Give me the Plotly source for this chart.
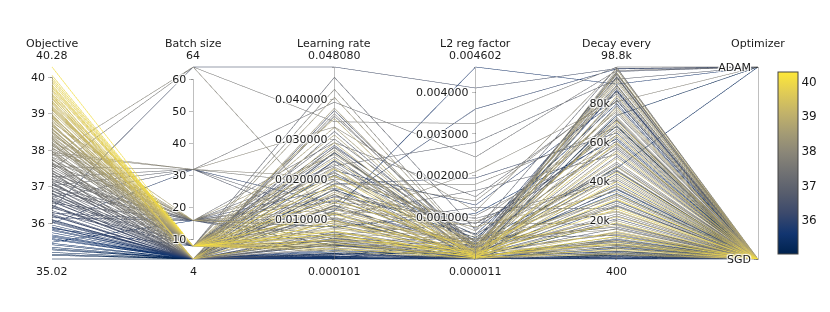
import plotly.graph_objects as go

objective = [40.28, 40.05, 39.86, 39.79, 39.71, 39.62, 39.55, 39.48, 39.41, 39.35,
             39.28, 39.22, 39.16, 39.10, 39.04, 38.98, 38.93, 38.87, 38.82, 38.77,
             38.71, 38.66, 38.61, 38.56, 38.51, 38.46, 38.41, 38.36, 38.31, 38.27,
             38.22, 38.17, 38.12, 38.08, 38.03, 37.98, 37.94, 37.89, 37.85, 37.80,
             37.76, 37.72, 37.67, 37.63, 37.59, 37.55, 37.51, 37.47, 37.43, 37.39,
             37.35, 37.31, 37.27, 37.23, 37.19, 37.15, 37.11, 37.07, 37.03, 36.99,
             36.95, 36.91, 36.87, 36.83, 36.79, 36.75, 36.71, 36.67, 36.63, 36.59,
             36.55, 36.50, 36.45, 36.40, 36.35, 36.30, 36.25, 36.20, 36.15, 36.10,
             36.05, 36.00, 35.95, 35.90, 35.85, 35.80, 35.74, 35.68, 35.62, 35.55,
             35.48, 35.41, 35.34, 35.27, 35.20, 35.12, 35.02, 39.92, 39.66, 39.44,
             39.19, 38.95, 38.74, 38.58, 38.39, 38.20, 38.05, 37.92, 37.74, 37.57,
             37.37, 37.21, 37.05, 36.89, 36.69, 36.48, 36.28, 36.08, 35.88, 35.58,
             39.98, 39.75, 39.52, 39.31, 39.13, 38.90, 38.68, 38.49, 38.33, 38.14,
             37.96, 37.82, 37.65, 37.45, 37.29, 37.13, 36.97, 36.81, 36.61, 36.42,
             36.22, 36.02, 35.83, 35.65, 35.45, 35.30, 35.15, 37.88, 37.61, 38.26]

batch_size = [8, 8, 8, 8, 8, 4, 8, 8, 8, 8,
              4, 8, 8, 8, 8, 4, 8, 8, 8, 16,
              8, 8, 4, 8, 8, 8, 16, 8, 4, 8,
              8, 8, 16, 8, 4, 8, 32, 8, 64, 8,
              4, 16, 8, 8, 4, 32, 8, 64, 8, 4,
              16, 8, 32, 4, 8, 16, 4, 8, 32, 4,
              8, 4, 16, 4, 8, 4, 32, 4, 8, 4,
              16, 4, 4, 64, 4, 8, 4, 4, 16, 4,
              4, 32, 4, 4, 8, 4, 4, 4, 4, 4,
              16, 4, 4, 4, 4, 4, 4, 8, 8, 4,
              8, 8, 4, 8, 8, 4, 16, 8, 4, 8,
              4, 16, 8, 4, 8, 4, 16, 4, 4, 4,
              8, 8, 4, 8, 8, 4, 8, 8, 4, 8,
              4, 16, 4, 8, 4, 4, 16, 4, 4, 8,
              4, 4, 4, 4, 4, 4, 4, 32, 16, 16]

learning_rate = [0.0062, 0.0085, 0.0041, 0.0152, 0.0027, 0.0098, 0.0210, 0.0034, 0.0118, 0.0069,
                 0.0183, 0.0251, 0.0047, 0.0131, 0.0075, 0.0292, 0.0020, 0.0163, 0.0352, 0.0089,
                 0.0228, 0.0056, 0.0141, 0.0311, 0.0038, 0.0195, 0.0262, 0.0106, 0.0378, 0.0064,
                 0.0173, 0.0405, 0.0082, 0.0239, 0.0123, 0.0046, 0.0331, 0.0152, 0.0094, 0.0279,
                 0.0058, 0.0201, 0.0116, 0.0425, 0.0029, 0.0187, 0.0071, 0.0344, 0.0256, 0.0135,
                 0.0052, 0.0218, 0.0393, 0.0087, 0.0301, 0.0145, 0.0037, 0.0267, 0.0110, 0.0176,
                 0.0455, 0.0063, 0.0234, 0.0016, 0.0128, 0.0320, 0.0079, 0.0198, 0.0045, 0.0372,
                 0.0101, 0.0025, 0.0158, 0.04808, 0.0068, 0.0285, 0.0012, 0.0189, 0.0035, 0.0247,
                 0.0009, 0.0139, 0.0053, 0.0008, 0.0211, 0.0004, 0.0121, 0.0022, 0.0006, 0.0003,
                 0.0081, 0.0002, 0.0011, 0.000101, 0.0005, 0.0015, 0.0002, 0.0113, 0.0049, 0.0226,
                 0.0092, 0.0033, 0.0168, 0.0273, 0.0078, 0.0136, 0.0215, 0.0060, 0.0364, 0.0103,
                 0.0043, 0.0292, 0.0149, 0.0245, 0.0031, 0.0113, 0.0178, 0.0042, 0.0266, 0.0019,
                 0.0071, 0.0186, 0.0057, 0.0143, 0.0024, 0.0208, 0.0096, 0.0330, 0.0051, 0.0185,
                 0.0268, 0.0125, 0.0039, 0.0231, 0.0097, 0.0358, 0.0061, 0.0162, 0.0281, 0.0048,
                 0.0134, 0.0222, 0.0036, 0.0098, 0.0014, 0.0174, 0.0007, 0.0206, 0.0155, 0.0114]

l2_reg = [0.000045, 0.000120, 0.000060, 0.000210, 0.000030, 0.000150, 0.000095, 0.000018, 0.000330, 0.000072,
          0.000140, 0.000052, 0.000260, 0.000088, 0.000410, 0.000110, 0.000025, 0.000190, 0.000067, 0.000550,
          0.000130, 0.000040, 0.000780, 0.000098, 0.000220, 0.000015, 0.000350, 0.000085, 0.000160, 0.000480,
          0.000058, 0.000240, 0.000120, 0.000035, 0.000920, 0.000075, 0.001150, 0.000180, 0.002100, 0.000062,
          0.000300, 0.001400, 0.000092, 0.000270, 0.000048, 0.001800, 0.000140, 0.003250, 0.000110, 0.000620,
          0.000200, 0.000078, 0.002450, 0.000160, 0.000420, 0.000980, 0.000055, 0.000290, 0.001650, 0.000130,
          0.000700, 0.000090, 0.002800, 0.000028, 0.000360, 0.000190, 0.001250, 0.000070, 0.000510, 0.000230,
          0.000150, 0.000042, 0.000860, 0.004100, 0.000100, 0.000320, 0.000020, 0.001950, 0.000080, 0.000450,
          0.000011, 0.003600, 0.000170, 0.000033, 0.000600, 0.000014, 0.004602, 0.000065, 0.000250, 0.000022,
          0.001100, 0.000017, 0.000380, 0.000012, 0.000050, 0.000140, 0.000013, 0.000075, 0.000160, 0.000045,
          0.000240, 0.000100, 0.000310, 0.000085, 0.000500, 0.000036, 0.000680, 0.000120, 0.000200, 0.000390,
          0.000068, 0.001500, 0.000260, 0.000115, 0.000440, 0.000105, 0.000760, 0.000057, 0.000280, 0.000039,
          0.000080, 0.000055, 0.000190, 0.000027, 0.000115, 0.000340, 0.000046, 0.000210, 0.000130, 0.000430,
          0.000090, 0.000290, 0.000060, 0.000570, 0.000150, 0.000320, 0.000880, 0.000074, 0.000410, 0.000095,
          0.000230, 0.001300, 0.000048, 0.000180, 0.000026, 0.000520, 0.000019, 0.000850, 0.001050, 0.000270]

decay_every = [12000, 31000, 8500, 45000, 5200, 22000, 60000, 14500, 38000, 2600,
               71000, 9500, 27000, 52000, 17500, 84000, 3400, 43000, 96000, 25000,
               66000, 11000, 35000, 89000, 7200, 48000, 77000, 20000, 97500, 15500,
               56000, 92000, 29000, 73000, 40000, 6300, 98200, 50000, 81000, 63000,
               18500, 86000, 33000, 95000, 4100, 68000, 23500, 98800, 58000, 46000,
               13000, 75000, 97000, 28000, 88000, 41000, 9800, 70000, 54000, 36500,
               98500, 16000, 92500, 1800, 61000, 83000, 26000, 79000, 12500, 96500,
               44000, 3000, 57000, 98000, 21000, 87000, 900, 65000, 8000, 93500,
               2200, 97800, 30000, 5800, 80000, 1300, 90000, 10500, 34000, 700,
               62000, 400, 47000, 1500, 19000, 74000, 2500, 19000, 7800, 55000,
               33500, 4700, 69000, 91000, 24500, 42000, 76000, 14000, 94000, 37500,
               11800, 85000, 49000, 72000, 16800, 39000, 64000, 27500, 86500, 6700,
               26000, 40000, 13500, 64000, 6000, 78000, 30500, 93000, 10000, 59000,
               82000, 32000, 7500, 67000, 22500, 95500, 18000, 53000, 89500, 9000,
               45500, 81500, 4400, 36000, 12000, 68500, 3600, 71500, 59500, 47500]

optimizer = ["SGD"] * 38 + ["ADAM"] + ["SGD"] * 8 + ["ADAM"] + ["SGD"] * 4 + ["ADAM"] + \
            ["SGD"] * 9 + ["ADAM"] + ["SGD"] * 6 + ["ADAM"] + ["SGD"] * 3 + ["ADAM"] + \
            ["SGD"] * 7 + ["ADAM"] + ["SGD"] * 4 + ["ADAM"] + ["SGD"] * 5 + ["ADAM"] + \
            ["SGD"] * 2 + ["ADAM"] + ["SGD"] * 24 + ["SGD"] * 30

opt_categories = ["SGD", "ADAM"]
opt_codes = [opt_categories.index(o) for o in optimizer]

dim_labels = ["Objective", "Batch size", "Learning rate", "L2 reg factor", "Decay every", "Optimizer"]
objective_ticks = [36, 37, 38, 39, 40]
batch_ticks = [10, 20, 30, 40, 50, 60]


def fmt_plain(v):
    return f"{v:.2f}" if v != int(v) else str(int(v))


def fmt_6f(v):
    return f"{v:.6f}"


def fmt_si(v):
    return f"{v / 1000:.3g}k" if v >= 1000 else f"{v:g}"


FONT = "DejaVu Sans"
TXT = "#1a1a1a"
W, H = 830, 312
ML, MR, MT, MB = 44, 80, 57, 59
PH = H - MT - MB

fig = go.Figure(go.Parcoords(
    line=dict(color=objective, colorscale="Cividis", showscale=True,
              colorbar=dict(thickness=20, x=1.0, xanchor="left", xpad=20, ypad=7,
                            outlinewidth=1, outlinecolor="#444",
                            tickfont=dict(size=12, family=FONT, color=TXT))),
    labelfont=dict(size=11, family=FONT, color=TXT),
    tickfont=dict(size=11, family=FONT, color=TXT),
    rangefont=dict(size=11, family=FONT, color="rgba(0,0,0,0)", shadow="none"),
    dimensions=[
        dict(label="", values=objective, tickvals=objective_ticks),
        dict(label="", values=batch_size, tickvals=batch_ticks),
        dict(label="", values=learning_rate, tickformat=".6f"),
        dict(label="", values=l2_reg, tickformat=".6f"),
        dict(label="", values=decay_every, tickformat="~s"),
        dict(label="", values=opt_codes, tickvals=[0, 1], ticktext=opt_categories),
    ],
))

# axis titles and range (min / max) labels
numeric_cols = [(objective, fmt_plain), (batch_size, fmt_plain), (learning_rate, fmt_6f),
                (l2_reg, fmt_6f), (decay_every, fmt_si), (None, None)]
n = len(dim_labels)
for i, lab in enumerate(dim_labels):
    xp = i / (n - 1)
    fig.add_annotation(text=lab, xref="paper", yref="paper",
                       x=xp, y=1 + (MT - 35) / PH,
                       xanchor="center", yanchor="middle", showarrow=False,
                       font=dict(size=11, family=FONT, color=TXT))
    col, f = numeric_cols[i]
    if col is None:
        continue
    fig.add_annotation(text=f(max(col)), xref="paper", yref="paper",
                       x=xp, y=1 + (MT - 47) / PH,
                       xanchor="center", yanchor="middle", showarrow=False,
                       font=dict(size=11, family=FONT, color=TXT))
    fig.add_annotation(text=f(min(col)), xref="paper", yref="paper",
                       x=xp, y=-(263 - (H - MB)) / PH,
                       xanchor="center", yanchor="middle", showarrow=False,
                       font=dict(size=11, family=FONT, color=TXT))

fig.update_layout(width=W, height=H,
                  margin=dict(l=ML, r=MR, t=MT, b=MB, autoexpand=False),
                  font=dict(family=FONT, color=TXT),
                  paper_bgcolor="white", plot_bgcolor="white")
fig.write_html("out.html")
